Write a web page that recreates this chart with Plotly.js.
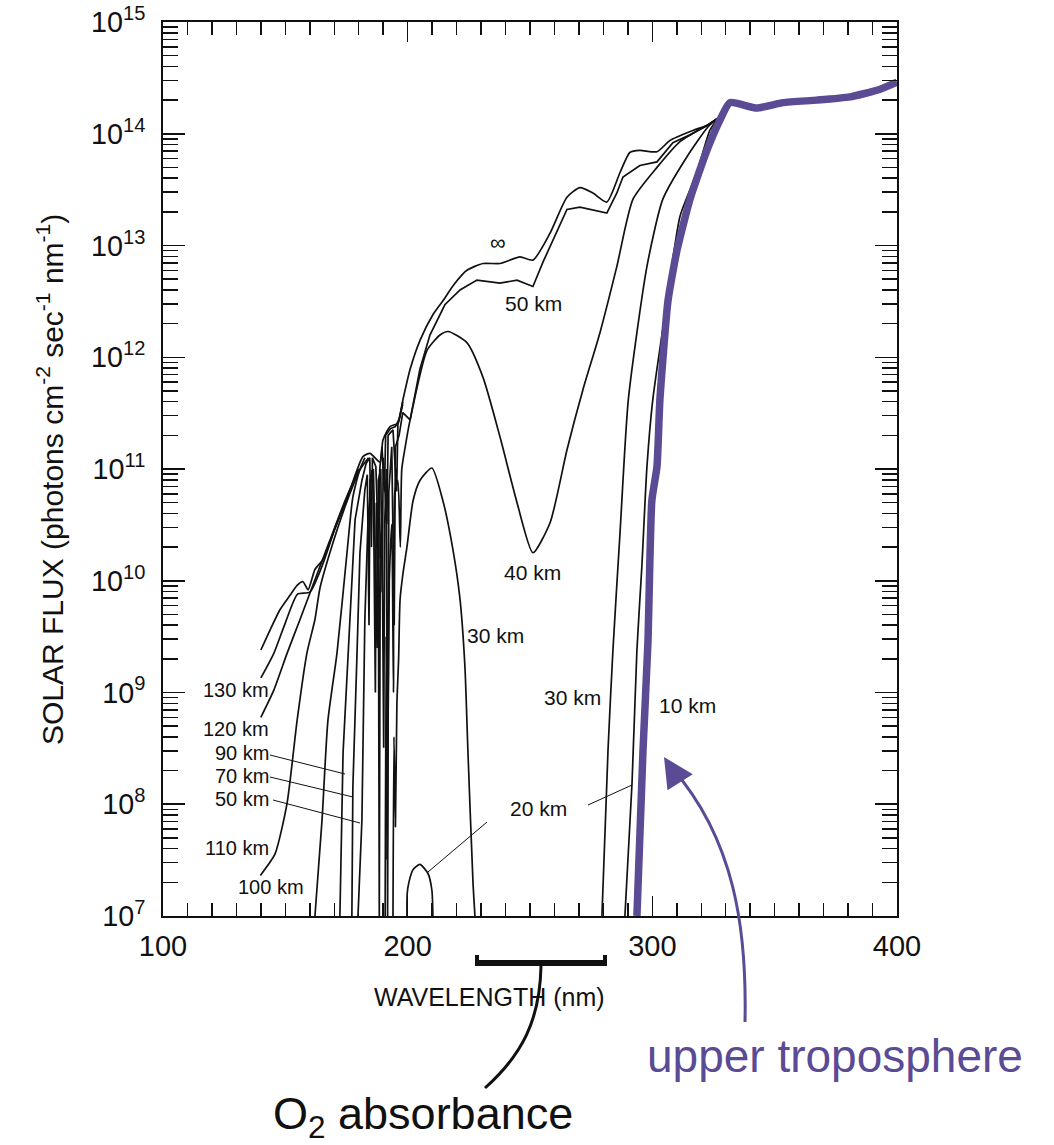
<!DOCTYPE html>
<html>
<head>
<meta charset="utf-8">
<script src="https://cdn.plot.ly/plotly-3.0.1.min.js"></script>
<style>html,body{margin:0;padding:0;background:#fff;}</style>
</head>
<body>
<div id="chart" style="width:1054px;height:1145px;"></div>
<script>
// ---------------- DATA (wavelength nm, solar flux photons cm-2 s-1 nm-1) ----------------
const infX = [140, 143.7, 147.8, 151.9, 154.8, 157.2, 159.3, 162.1, 165.4, 171.1, 176.4, 181.7, 184.6, 188.7, 189.9, 192.8, 196.0, 198.1, 201, 205, 210.3, 214.4, 219, 224.2, 230.8, 237.7, 245.9, 251.2, 258.2, 265.1, 270.4, 275.7, 281.4, 286.8, 290.8, 294.9, 301.9, 307.2, 316.6, 322.7, 326.8];
const infY = [2.4e9, 3.6e9, 5.5e9, 7.4e9, 9.1e9, 9.8e9, 8.3e9, 1.26e10, 1.55e10, 3.3e10, 6.5e10, 1.29e11, 1.38e11, 1.15e11, 1.82e11, 2.4e11, 2.57e11, 4.2e11, 7.8e11, 1.41e12, 2.4e12, 3.2e12, 4.5e12, 6.0e12, 6.9e12, 6.9e12, 7.9e12, 7.4e12, 1.29e13, 2.7e13, 3.3e13, 2.95e13, 2.45e13, 4.5e13, 6.8e13, 7.1e13, 6.9e13, 8.7e13, 1.07e14, 1.2e14, 1.38e14];

const km130X = [140, 145.3, 150, 155, 160, 165, 170, 176];
const km130Y = [1.35e9, 2.24e9, 4.2e9, 7.6e9, 7.9e9, 1.35e10, 2.8e10, 6.0e10];

const km120X = [140, 145.3, 150.7, 156, 162.1, 168.2, 174.4, 180];
const km120Y = [6.0e8, 1.05e9, 2.24e9, 4.5e9, 1.02e10, 2.3e10, 5.2e10, 1.0e11];

const km110X = [139.8, 141, 145.8, 150.7, 154.8, 158.8, 162.1, 164.2, 169.5, 174.4, 178.5, 182.5];
const km110Y = [2.3e7, 2.5e7, 3.6e7, 1.02e8, 5.6e8, 2.24e9, 4.5e9, 8.7e9, 2.2e10, 4.6e10, 7.9e10, 1.26e11];

const km100X = [162.1, 165, 167.4, 171.1, 175.2, 177.6, 180.5, 184];
const km100Y = [1.0e7, 7.2e7, 5.6e8, 2.24e9, 1.78e10, 5.6e10, 9.8e10, 1.26e11];

const km90X = [172.3, 173.6, 176.4, 178.5, 181.3, 183, 184.5, 185.2, 185.6, 187, 188.2, 188.6, 189.5, 190.5, 191, 193, 195, 196.5, 198];
const km90Y = [1.0e7, 2.9e8, 4.5e9, 3.5e10, 7.9e10, 1.12e11, 1.26e11, 2.0e10, 1.26e11, 1.05e11, 1.58e10, 1.0e11, 1.58e11, 6.3e10, 2.0e11, 2.3e11, 2.4e11, 2.8e11, 4.0e11];

const km70X = [177.2, 177.6, 179.3, 180.5, 182.5, 183.5, 184.2, 184.6, 186, 187.5, 188, 189, 189.6, 190, 191.5, 192, 194, 195.5, 196, 198];
const km70Y = [1.0e7, 1.41e8, 2.24e9, 1.78e10, 6.5e10, 8.9e10, 4.0e9, 7.9e10, 1.0e11, 2.5e9, 7.9e10, 1.0e11, 7.9e9, 1.26e11, 3.2e10, 2.0e11, 2.24e11, 6.3e10, 2.5e11, 3.8e11];

const km50X = [179.7, 181.3, 182.5, 183.8, 185.4, 186, 186.8, 187.2, 188, 188.4, 188.8, 189.5, 190.2, 190.6, 191.3, 191.8, 192.3, 193.5, 194.5, 195, 196.5, 198, 201, 205, 209.1, 215.2, 221.4, 228.3, 237.7, 244.7, 251.2, 255.3, 265.1, 270.4, 281.4, 285.5, 288, 294.9, 301.9, 308.4, 315.4, 322.7, 326.8];
const km50Y = [1.0e7, 7.2e7, 4.5e9, 3.5e10, 9.8e10, 6.3e10, 1.0e9, 5.0e10, 2.5e10, 1.0e7, 2.0e10, 4.0e10, 3.2e8, 3.2e10, 1.0e11, 1.0e7, 6.3e10, 1.58e11, 4.0e9, 1.58e11, 2.0e11, 3.2e11, 2.75e11, 7.8e11, 1.58e12, 2.95e12, 4.0e12, 4.9e12, 4.6e12, 4.9e12, 4.3e12, 7.1e12, 2.1e13, 2.2e13, 1.95e13, 2.95e13, 4.1e13, 5.2e13, 5.6e13, 8.3e13, 9.8e13, 1.2e14, 1.38e14];

const km40X = [190.8, 191.2, 191.6, 192.5, 193.5, 194.2, 194.8, 196, 197, 197.6, 199, 201, 207.9, 213.2, 216.5, 224.2, 230.8, 237.7, 244.7, 251.2, 258.2, 265.1, 271.6, 278.6, 285.5, 292.1, 301.9, 311.3, 322.7, 326.8];
const km40Y = [1.0e7, 3.2e9, 3.2e7, 1.0e10, 3.2e10, 1.0e9, 6.3e10, 7.9e10, 2.0e10, 1.0e11, 1.58e11, 2.75e11, 1.15e12, 1.58e12, 1.7e12, 1.35e12, 6.6e11, 1.95e11, 5.0e10, 1.78e10, 3.3e10, 1.48e11, 5.1e11, 1.66e12, 6.5e12, 2.6e13, 5.0e13, 8.5e13, 1.2e14, 1.38e14];

const km30aX = [194.0, 194.4, 195.0, 195.6, 196.3, 196.9, 198.1, 199.7, 202.2, 205.0, 209.9, 214.4, 218.5, 221.4, 223.4, 224.6, 226.7, 227.5];
const km30aY = [1.0e7, 4.0e8, 6.3e7, 7.9e8, 2.0e9, 6.8e9, 1.17e10, 2.0e10, 5.2e10, 7.9e10, 1.02e11, 5.2e10, 1.9e10, 6.8e9, 1.7e9, 3.1e8, 2.0e7, 1.0e7];

const km30bX = [279.4, 281.9, 283.9, 286.8, 290.2, 297.8, 304.3, 314.1, 322.7, 326.8];
const km30bY = [1.0e7, 3.1e8, 2.4e9, 2.7e10, 4.2e11, 6.5e12, 2.6e13, 6.2e13, 1.15e14, 1.38e14];

const km20aX = [199.7, 199.8, 200.5, 202.2, 205.0, 208.3, 209.9, 210.3];
const km20aY = [1.0e7, 1.58e7, 2.0e7, 2.6e7, 2.9e7, 2.4e7, 1.7e7, 1.0e7];

const km20bX = [288.8, 291.7, 293.7, 295.7, 297.8, 300.2, 306.0, 311.3, 318.2, 323.5, 326.8];
const km20bY = [1.0e7, 1.55e8, 2.4e9, 1.32e10, 1.05e11, 4.2e11, 3.2e12, 1.82e13, 4.5e13, 1.07e14, 1.38e14];

// upper troposphere (10 km), highlighted
const km10X = [293.7, 296.2, 298.2, 299.8, 301.9, 303.1, 306.4, 310.1, 315.4, 322.3, 327.6, 331.7, 342.7, 353.4, 367.3, 380.8, 391.8, 400];
const km10Y = [1.0e7, 3.1e8, 2.8e9, 5.2e10, 1.05e11, 4.2e11, 3.2e12, 9.1e12, 2.6e13, 7.1e13, 1.32e14, 1.9e14, 1.7e14, 1.9e14, 2.0e14, 2.14e14, 2.45e14, 2.9e14];

const xTickVals = [100, 200, 300, 400];

// ---------------- STYLE ----------------
const BLACK = '#111111';
const PURPLE = '#5b4a94';
const FONT = 'Liberation Sans, Arial, Helvetica, sans-serif';

function blackLine(x, y, name, smooth) {
  return {x: x, y: y, name: name, type: 'scatter', mode: 'lines',
          line: {color: BLACK, width: 1.7, shape: smooth ? 'spline' : 'linear', smoothing: 0.6},
          hoverinfo: 'x+y+name'};
}

const traces = [
  blackLine(infX, infY, '∞', true),
  blackLine(km130X, km130Y, '130 km', true),
  blackLine(km120X, km120Y, '120 km', true),
  blackLine(km110X, km110Y, '110 km', true),
  blackLine(km100X, km100Y, '100 km', true),
  blackLine(km90X, km90Y, '90 km'),
  blackLine(km70X, km70Y, '70 km'),
  blackLine(km50X, km50Y, '50 km'),
  blackLine(km40X, km40Y, '40 km', true),
  blackLine(km30aX, km30aY, '30 km', true),
  blackLine(km30bX, km30bY, '30 km', true),
  blackLine(km20aX, km20aY, '20 km', true),
  blackLine(km20bX, km20bY, '20 km', true),
  {x: km10X, y: km10Y, name: '10 km (upper troposphere)', type: 'scatter', mode: 'lines',
   line: {color: PURPLE, width: 7.5, shape: 'spline', smoothing: 0.5}}
];

// plot area in page pixels: left 163, right 897, top 22, bottom 916
const L = 163, R = 897, T = 22, B = 916;
const px = v => (v - L) / (R - L);
const py = v => (B - v) / (B - T);

function label(text, x, y, size, anchor, color) {
  return {text: text, xref: 'paper', yref: 'paper', x: px(x), y: py(y),
          xanchor: anchor || 'center', yanchor: 'middle', showarrow: false,
          font: {family: FONT, size: size || 21, color: color || BLACK}};
}
function seg(x0, y0, x1, y1, w, c) {
  return {type: 'line', xref: 'paper', yref: 'paper', x0: px(x0), y0: py(y0), x1: px(x1), y1: py(y1),
          line: {color: c || BLACK, width: w || 1}};
}
function pathP(pts, w, c) {
  let s = '';
  for (const p of pts) {
    if (typeof p === 'string') s += p + ' ';
    else s += px(p[0]).toFixed(5) + ',' + py(p[1]).toFixed(5) + ' ';
  }
  return {type: 'path', xref: 'paper', yref: 'paper', path: s.trim(), line: {color: c || BLACK, width: w}};
}

const annotations = [
  label('∞', 498, 243, 22),
  label('50 km', 533, 303),
  label('40 km', 532, 572),
  label('30 km', 495, 636),
  label('30 km', 572, 697),
  label('10 km', 687, 705),
  label('20 km', 538, 808),
  label('130 km', 271, 690, 20, 'right'),
  label('120 km', 271, 729, 20, 'right'),
  label('90 km', 271, 753, 20, 'right'),
  label('70 km', 271, 776, 20, 'right'),
  label('50 km', 271, 799, 20, 'right'),
  label('110 km', 271, 848, 20, 'right'),
  label('100 km', 306, 887, 20, 'right'),
  // axis titles
  label('WAVELENGTH (nm)', 489, 997, 25),
  {text: 'SOLAR FLUX (photons cm<sup>-2</sup> sec<sup>-1</sup> nm<sup>-1</sup>)', xref: 'paper', yref: 'paper',
   x: px(50), y: py(480), xanchor: 'center', yanchor: 'middle', showarrow: false, textangle: -90,
   font: {family: FONT, size: 30, color: BLACK}},
  // overlays
  label('O<sub>2</sub> absorbance', 423, 1116, 45),
  label('upper troposphere', 835, 1056, 46, 'center', PURPLE),
  // purple arrowhead
  {xref: 'paper', yref: 'paper', x: px(664), y: py(757), ax: 14, ay: 22, text: '',
   showarrow: true, arrowhead: 2, arrowsize: 2, arrowwidth: 3, arrowcolor: PURPLE}
];

const shapes = [
  seg(270, 755, 345, 774, 1),
  seg(270, 777, 353, 797, 1),
  seg(273, 800, 360, 823, 1),
  seg(588, 805, 632, 785, 1),
  seg(428, 872, 487, 822, 1),
  // O2 bracket
  seg(475, 963, 607, 963, 6),
  seg(477, 955, 477, 966, 4),
  seg(605, 955, 605, 966, 4),
  pathP(['M', [541, 966], 'C', [540, 1020], [522, 1055], [485, 1088]], 3, BLACK),
  // purple curved arrow
  pathP(['M', [745, 1022], 'C', [747, 930], [735, 840], [672, 768]], 3, PURPLE)
];

const layout = {
  width: 1054, height: 1145,
  margin: {l: L, r: 1054 - R, t: T, b: 1145 - B, pad: 0},
  paper_bgcolor: '#ffffff', plot_bgcolor: '#ffffff',
  showlegend: false,
  font: {family: FONT, color: BLACK},
  xaxis: {
    range: [100, 400], tickvals: xTickVals, ticktext: xTickVals.map(String),
    ticks: 'inside', ticklen: 20, tickwidth: 1.5, tickcolor: BLACK,
    minor: {ticks: 'inside', ticklen: 13, tickwidth: 1.5, tickcolor: BLACK, dtick: 10, tick0: 100, showgrid: false},
    showline: true, linewidth: 2, linecolor: BLACK, mirror: 'ticks',
    showgrid: false, zeroline: false,
    tickfont: {family: FONT, size: 29, color: BLACK}, ticklabelstandoff: 3
  },
  yaxis: {
    type: 'log', range: [6.9999, 15.0001], dtick: 1, exponentformat: 'power',
    ticks: 'inside', ticklen: 22, tickwidth: 1.5, tickcolor: BLACK,
    minor: {ticks: 'inside', ticklen: 15, tickwidth: 1.5, tickcolor: BLACK, dtick: 'D1', showgrid: false},
    showline: true, linewidth: 2, linecolor: BLACK, mirror: 'ticks',
    showgrid: false, zeroline: false,
    tickfont: {family: FONT, size: 23, color: BLACK}, ticklabelstandoff: 11
  },
  annotations: annotations,
  shapes: shapes
};

Plotly.newPlot('chart', traces, layout, {displayModeBar: false, staticPlot: true});
</script>
</body>
</html>
